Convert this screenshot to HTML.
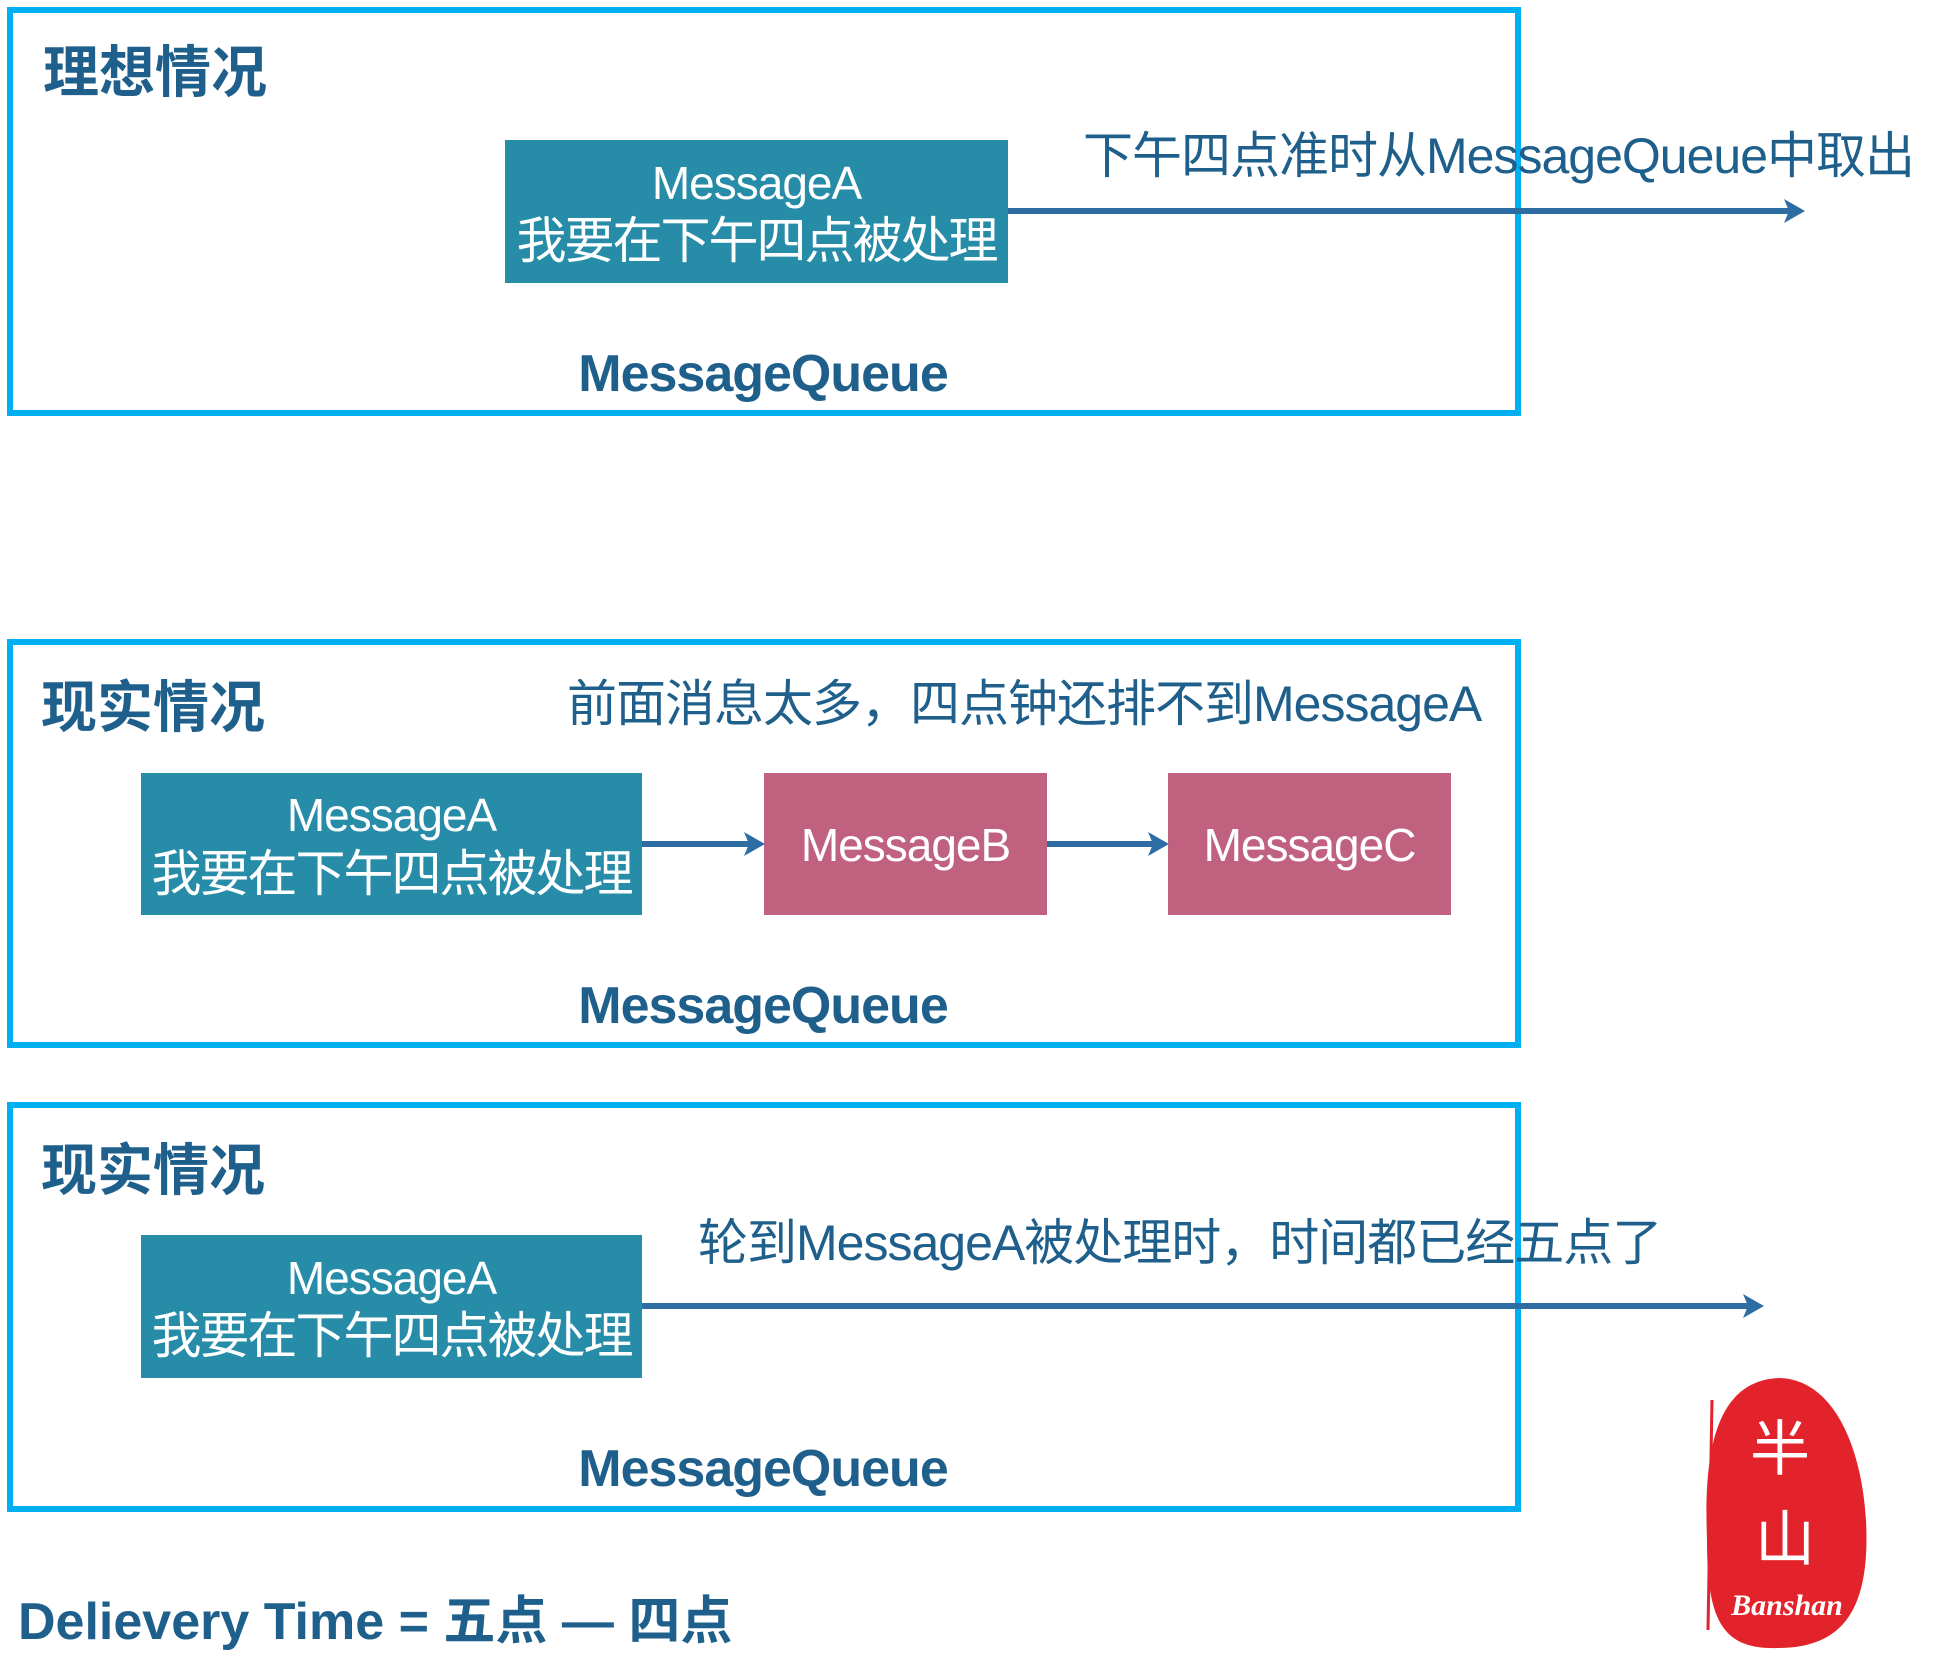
<!DOCTYPE html>
<html><head><meta charset="utf-8"><style>
body{margin:0;width:1945px;height:1671px;background:#fff;position:relative;overflow:hidden;font-family:"Liberation Sans","Noto Sans CJK SC",sans-serif;}
.frame{position:absolute;border:6px solid #00b0f0;box-sizing:border-box;}
.t{position:absolute;white-space:nowrap;line-height:1;}
.title{font-size:56px;font-weight:bold;color:#1f5f8b;}
.mq{font-size:52px;font-weight:bold;color:#1f5f8b;width:500px;text-align:center;letter-spacing:-1px;}
.lbl{font-size:50px;color:#1f5f8b;letter-spacing:-1px;}
.box{position:absolute;color:#fff;display:flex;flex-direction:column;align-items:center;justify-content:center;text-align:center;line-height:1.2;padding-top:4px;box-sizing:border-box;}
.teal{background:#268ca8;}
.pink{background:#c0627f;}
.a{font-size:46px;letter-spacing:-1px;}
.c{font-size:50px;letter-spacing:-2px;}
</style></head><body>
<div class="frame" style="left:7px;top:7px;width:1514px;height:409px"></div>
<div class="frame" style="left:7px;top:639px;width:1514px;height:409px"></div>
<div class="frame" style="left:7px;top:1102px;width:1514px;height:410px"></div>

<div class="t title" style="left:43px;top:45px">理想情况</div>
<div class="t title" style="left:41px;top:680px">现实情况</div>
<div class="t title" style="left:41px;top:1143px">现实情况</div>

<div class="box teal" style="left:505px;top:140px;width:503px;height:143px"><div class="a">MessageA</div><div class="c">我要在下午四点被处理</div></div>
<div class="box teal" style="left:141px;top:773px;width:501px;height:142px"><div class="a">MessageA</div><div class="c">我要在下午四点被处理</div></div>
<div class="box pink" style="left:764px;top:773px;width:283px;height:142px"><div class="a">MessageB</div></div>
<div class="box pink" style="left:1168px;top:773px;width:283px;height:142px"><div class="a">MessageC</div></div>
<div class="box teal" style="left:141px;top:1235px;width:501px;height:143px"><div class="a">MessageA</div><div class="c">我要在下午四点被处理</div></div>

<svg width="1945" height="1671" style="position:absolute;left:0;top:0">
<g stroke="#2e6da4" stroke-width="6" fill="#2e6da4">
<line x1="1008" y1="211" x2="1792" y2="211"/><polygon points="1805,211 1784,199 1789,211 1784,223" stroke="none"/>
<line x1="642" y1="844" x2="752" y2="844"/><polygon points="765,844 744,832 749,844 744,856" stroke="none"/>
<line x1="1047" y1="844" x2="1156" y2="844"/><polygon points="1169,844 1148,832 1153,844 1148,856" stroke="none"/>
<line x1="642" y1="1306" x2="1751" y2="1306"/><polygon points="1764,1306 1743,1294 1748,1306 1743,1318" stroke="none"/>
</g>
<path d="M1780,1378 C1835,1380 1862,1450 1866,1520 C1870,1600 1850,1648 1778,1648 C1722,1650 1707,1620 1707,1540 C1704,1460 1712,1380 1780,1378Z" fill="#e3232c"/>
<line x1="1712" y1="1400" x2="1708" y2="1630" stroke="#e3232c" stroke-width="3"/>
<text x="1787" y="1615" fill="#fff" font-family="Liberation Serif,serif" font-style="italic" font-weight="bold" font-size="30" text-anchor="middle">Banshan</text>
<text x="1780" y="1470" fill="#fff" font-family="Noto Sans CJK SC,sans-serif" font-size="60" text-anchor="middle">半</text>
<text x="1785" y="1560" fill="#fff" font-family="Noto Sans CJK SC,sans-serif" font-size="60" text-anchor="middle">山</text>
</svg>

<div class="t lbl" style="left:1083px;top:131px">下午四点准时从MessageQueue中取出</div>
<div class="t lbl" style="left:567px;top:679px">前面消息太多，四点钟还排不到MessageA</div>
<div class="t lbl" style="left:698px;top:1218px">轮到MessageA被处理时，时间都已经五点了</div>

<div class="t mq" style="left:513px;top:348px">MessageQueue</div>
<div class="t mq" style="left:513px;top:980px">MessageQueue</div>
<div class="t mq" style="left:513px;top:1443px">MessageQueue</div>

<div class="t title" style="left:18px;top:1596px;font-size:52px">Delievery Time = 五点 — 四点</div>
</body></html>
